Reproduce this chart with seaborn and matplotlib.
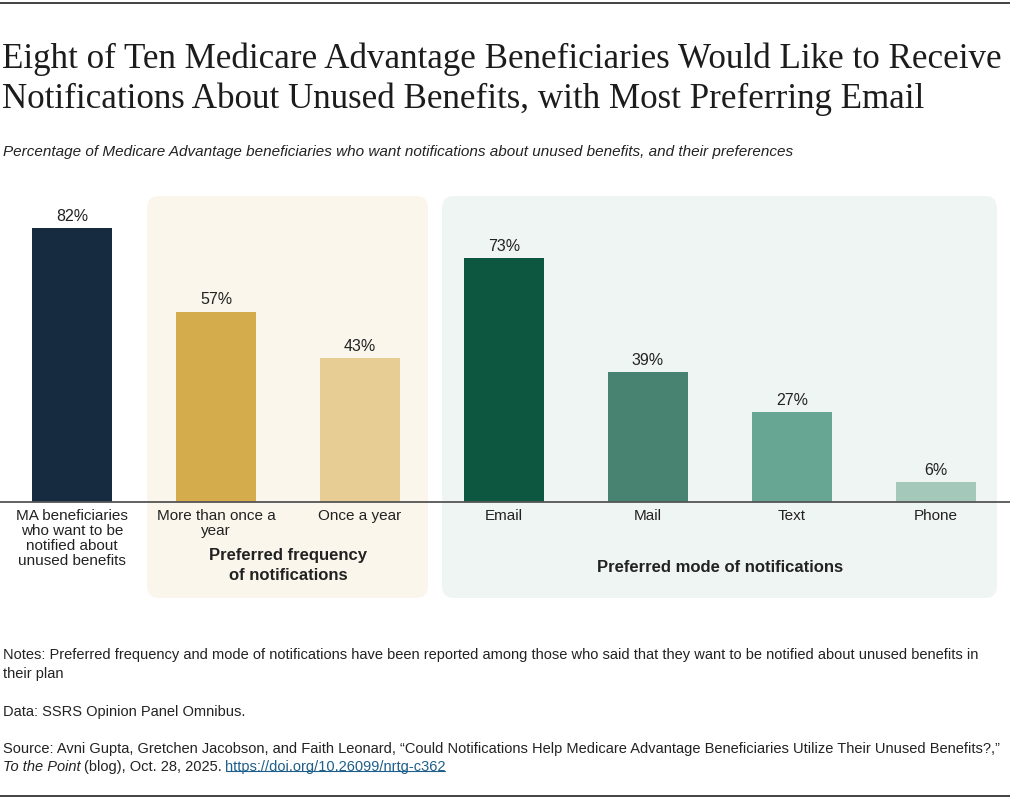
import matplotlib
matplotlib.use("Agg")
import matplotlib.pyplot as plt
import seaborn as sns
import pandas as pd
import numpy as np
from matplotlib.patches import FancyBboxPatch
from matplotlib.lines import Line2D
from matplotlib.transforms import IdentityTransform

categories = ["MA beneficiaries\nwho want to be\nnotified about\nunused benefits",
              "More than once a\nyear", "Once a year", "Email", "Mail", "Text", "Phone"]
values = [82, 57, 43, 73, 39, 27, 6]
bar_colors = ["#172B40", "#D4AC4C", "#E7CD94", "#0D5640", "#488270", "#66A693", "#A4C9BB"]
group_labels = ["Preferred frequency\nof notifications", "Preferred mode of notifications"]

title_lines = ["Eight of Ten Medicare Advantage Beneficiaries Would Like to Receive",
               "Notifications About Unused Benefits, with Most Preferring Email"]
subtitle = ("Percentage of Medicare Advantage beneficiaries who want notifications "
            "about unused benefits, and their preferences")
notes = ("Notes: Preferred frequency and mode of notifications have been reported among those "
         "who said that they want to be notified about unused benefits in\ntheir plan")
data_note = "Data: SSRS Opinion Panel Omnibus."
source1 = ("Source: Avni Gupta, Gretchen Jacobson, and Faith Leonard, \u201cCould Notifications "
           "Help Medicare Advantage Beneficiaries Utilize Their Unused Benefits?,\u201d")
source2_it = "To the Point"
source2_rest = "(blog), Oct. 28, 2025."
source_link = "https://doi.org/10.26099/nrtg-c362"

sns.set_theme(style="white")
plt.rcParams["font.family"] = ["Liberation Sans", "DejaVu Sans"]
TXT = "#222222"

W, H = 1010, 800
fig = plt.figure(figsize=(W / 100, H / 100), dpi=100)
fig.patch.set_facecolor("white")

# background panels (pixel coordinates)
def panel(x, ytop, w, h, color):
    p = FancyBboxPatch((x, H - ytop - h), w, h,
                       boxstyle="round,pad=0,rounding_size=12",
                       transform=IdentityTransform(), facecolor=color,
                       edgecolor="none", zorder=-5)
    fig.add_artist(p)

panel(147, 196, 281, 402, "#FAF6EC")
panel(442, 196, 555, 402, "#EFF5F2")

base_y = 502
top_y = 190
ax = fig.add_axes([0, 1 - base_y / H, 1, (base_y - top_y) / H])
ax.patch.set_visible(False)

df = pd.DataFrame({"cat": categories, "val": values})
sns.barplot(data=df, x="cat", y="val", hue="cat", palette=bar_colors,
            order=categories, hue_order=categories, width=80 / 144,
            saturation=1, legend=False, linewidth=0, ax=ax)

px_per_unit = 144
ax.set_xlim(-0.5, (W - 72) / px_per_unit)
ax.set_ylim(0, (base_y - top_y) / 3.34)

for c in ax.containers:
    ax.bar_label(c, labels=[f"{v:.0f}%" for v in c.datavalues], padding=3,
                 fontsize=11.5, color=TXT)

for s in ["top", "left", "right"]:
    ax.spines[s].set_visible(False)
ax.spines["bottom"].set_color("#555555")
ax.spines["bottom"].set_linewidth(1.3)
ax.set_yticks([])
ax.set_xlabel("")
ax.set_ylabel("")
ax.set_xticks(range(len(categories)))
ax.set_xticklabels(categories, fontsize=11, color=TXT, linespacing=1.1)
ax.tick_params(axis="x", length=0, pad=5)

# group labels
ax.text(1.5, -(548 - base_y) / (base_y - top_y), group_labels[0],
        transform=ax.get_xaxis_transform(), ha="center", va="top", fontsize=12,
        fontweight="bold", color=TXT, linespacing=1.45)
ax.text(4.5, -(567 - base_y) / (base_y - top_y), group_labels[1],
        transform=ax.get_xaxis_transform(), ha="center", va="center", fontsize=12,
        fontweight="bold", color=TXT)

# title / subtitle
fig.text(2 / W, 1 - 68 / H, title_lines[0], family="Liberation Serif", fontsize=25.2,
         color="#1c1c1c", va="baseline")
fig.text(2 / W, 1 - 108 / H, title_lines[1], family="Liberation Serif", fontsize=25.2,
         color="#1c1c1c", va="baseline")
fig.text(3 / W, 1 - 152 / H, subtitle, fontsize=11, style="italic", color=TXT, va="center")

# notes
fig.text(3 / W, 1 - 648 / H, notes, fontsize=10.5, color=TXT, va="top", linespacing=1.45)
fig.text(3 / W, 1 - 712 / H, data_note, fontsize=10.5, color=TXT, va="center")
fig.text(3 / W, 1 - 749 / H, source1, fontsize=10.5, color=TXT, va="center")
t1 = fig.text(3 / W, 1 - 767 / H, source2_it, fontsize=10.5, color=TXT, va="center",
              style="italic")
t2 = ax.annotate(source2_rest, xy=(1, 0), xycoords=t1, xytext=(2.5, 0),
                 textcoords="offset points", va="bottom", ha="left",
                 fontsize=10.5, color=TXT, annotation_clip=False)
t3 = ax.annotate(source_link, xy=(1, 0), xycoords=t2, xytext=(2.5, 0),
                 textcoords="offset points", va="bottom", ha="left",
                 fontsize=10.5, color="#1F5F8B", annotation_clip=False)

# frame lines
fig.add_artist(Line2D([0, 1], [1 - 3 / H] * 2, color="#222222", lw=1.2))
fig.add_artist(Line2D([0, 1], [1 - 796 / H] * 2, color="#222222", lw=1.2))

# underline link
fig.canvas.draw()
r = fig.canvas.get_renderer()
bb = t3.get_window_extent(r)
uy = bb.y0 + 3.5
fig.add_artist(Line2D([bb.x0 + 1, bb.x1 - 1], [uy, uy], transform=IdentityTransform(),
                      color="#1F5F8B", lw=0.8))

fig.savefig("out.png", dpi=100)
